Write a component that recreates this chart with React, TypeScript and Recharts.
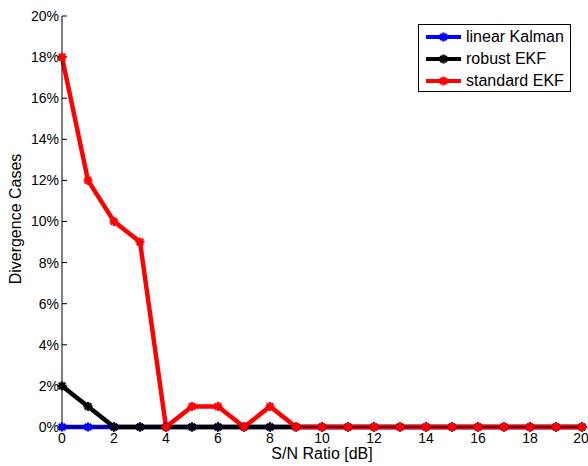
import React from 'react';
import { LineChart, Line, XAxis, YAxis, Legend } from 'recharts';

const snr = [0, 1, 2, 3, 4, 5, 6, 7, 8, 9, 10, 11, 12, 13, 14, 15, 16, 17, 18, 19, 20];
const linearKalman = [0, 0, 0, 0, 0, 0, 0, 0, 0, 0, 0, 0, 0, 0, 0, 0, 0, 0, 0, 0, 0];
const robustEkf = [2, 1, 0, 0, 0, 0, 0, 0, 0, 0, 0, 0, 0, 0, 0, 0, 0, 0, 0, 0, 0];
const standardEkf = [18, 12, 10, 9, 0, 1, 1, 0, 1, 0, 0, 0, 0, 0, 0, 0, 0, 0, 0, 0, 0];

const xTicks = [0, 2, 4, 6, 8, 10, 12, 14, 16, 18, 20];
const yTicks = [0, 2, 4, 6, 8, 10, 12, 14, 16, 18, 20];

const series = [
  { key: 'linear', name: 'linear Kalman', color: '#0000ff' },
  { key: 'robust', name: 'robust EKF', color: '#000000' },
  { key: 'standard', name: 'standard EKF', color: '#ff0000' },
];

const data = snr.map((x, i) => ({
  x,
  linear: linearKalman[i],
  robust: robustEkf[i],
  standard: standardEkf[i],
}));

const FONT = 'Arial, "Liberation Sans", Helvetica, sans-serif';

// matlab-ish '*' marker
const Star = (color: string) => (props: any) => {
  const { cx, cy, index } = props;
  if (cx == null || cy == null) return null;
  const r = 4.5;
  const d = 3.2;
  return (
    <g key={index} stroke={color} strokeWidth={2.4}>
      <line x1={cx - r} y1={cy} x2={cx + r} y2={cy} />
      <line x1={cx} y1={cy - r} x2={cx} y2={cy + r} />
      <line x1={cx - d} y1={cy - d} x2={cx + d} y2={cy + d} />
      <line x1={cx - d} y1={cy + d} x2={cx + d} y2={cy - d} />
    </g>
  );
};

const LegendBox = () => (
  <div
    style={{
      boxSizing: 'border-box',
      width: 153,
      height: 68,
      border: '1px solid #000',
      background: '#fff',
      padding: '1px 0 0 7px',
      fontFamily: FONT,
      fontSize: 16,
      lineHeight: '22px',
      whiteSpace: 'nowrap',
    }}
  >
    {series.map((s) => (
      <div key={s.key} style={{ display: 'flex', alignItems: 'center', height: 22 }}>
        <svg width={36} height={12} style={{ marginRight: 4 }}>
          <line x1={0} y1={6} x2={35} y2={6} stroke={s.color} strokeWidth={4} />
          {Star(s.color)({ cx: 17.5, cy: 6, index: 0 })}
        </svg>
        <span>{s.name}</span>
      </div>
    ))}
  </div>
);

export default function App() {
  return (
    <div style={{ position: 'absolute', left: 0, top: 0, background: '#fff' }}>
      <LineChart width={588} height={466} data={data} margin={{ top: 16, right: 6, left: 0, bottom: 0 }}>
        <XAxis
          dataKey="x"
          type="number"
          domain={[0, 20]}
          ticks={xTicks}
          height={39}
          stroke="#000"
          tickSize={-5}
          tickMargin={11}
          tick={{ fill: '#000', fontSize: 14, fontFamily: FONT }}
          label={{
            content: () => (
              <text x={322} y={459} textAnchor="middle" fontSize={16} fontFamily={FONT} fill="#000">
                S/N Ratio [dB]
              </text>
            ),
          }}
        />
        <XAxis
          xAxisId="top"
          orientation="top"
          type="number"
          domain={[0, 20]}
          ticks={xTicks}
          height={0}
          stroke="#000"
          tickSize={-5}
          tick={false}
        />
        <YAxis
          type="number"
          domain={[0, 20]}
          ticks={yTicks}
          width={62}
          stroke="#000"
          tickSize={-5}
          tickMargin={8}
          tickFormatter={(v) => `${v}%`}
          tick={{ fill: '#000', fontSize: 14, fontFamily: FONT }}
          label={{
            content: () => (
              <text
                x={21}
                y={219}
                transform="rotate(-90 21 219)"
                textAnchor="middle"
                fontSize={16}
                fontFamily={FONT}
                fill="#000"
              >
                Divergence Cases
              </text>
            ),
          }}
        />
        <YAxis
          yAxisId="right"
          orientation="right"
          type="number"
          domain={[0, 20]}
          ticks={yTicks}
          width={0}
          stroke="#000"
          tickSize={-5}
          tick={false}
        />
        <Legend
          layout="horizontal"
          verticalAlign="middle"
          align="center"
          content={<LegendBox />}
          wrapperStyle={{ position: 'absolute', left: 418, top: 24, width: 'auto', height: 'auto' }}
        />
        {series.map((s) => (
          <Line
            key={s.key}
            dataKey={s.key}
            name={s.name}
            stroke={s.color}
            strokeWidth={4.5}
            dot={Star(s.color)}
            activeDot={false}
            isAnimationActive={false}
          />
        ))}
      </LineChart>
    </div>
  );
}
